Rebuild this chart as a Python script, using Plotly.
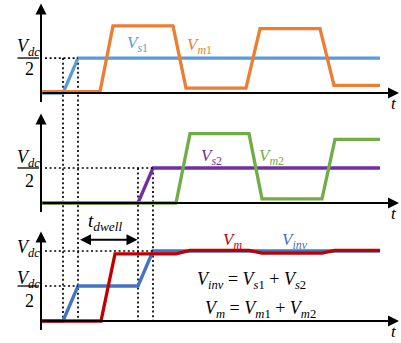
import plotly.graph_objects as go

# ---- waveform data (time in arbitrary units, voltage in units of Vdc) ----
# Upper cell: switching voltage Vs1 and modulated voltage Vm1
t_s1 = [0, 2.2, 3.7, 33.9]
v_s1 = [0, 0, 0.5, 0.5]
t_m1 = [0, 5.9, 7.2, 13.2, 14.5, 20.5, 21.9, 27.9, 29.3, 33.9]
v_m1 = [0.02, 0.02, 0.96, 0.96, 0.07, 0.07, 0.92, 0.92, 0.11, 0.11]

# Lower cell: Vs2 and Vm2
t_s2 = [0, 9.7, 11.2, 33.9]
v_s2 = [0, 0, 0.5, 0.5]
t_m2 = [0, 13.5, 14.9, 20.8, 22.1, 28.1, 29.4, 33.9]
v_m2 = [0, 0, 0.99, 0.99, 0.06, 0.06, 0.91, 0.91]

# Inverter output: Vinv = Vs1 + Vs2, Vm = Vm1 + Vm2
t_inv = [0, 2.2, 3.7, 9.7, 11.2, 33.9]
v_inv = [0, 0, 0.5, 0.5, 1, 1]
t_m = [0, 6.0, 7.4, 13.5, 14.9, 20.8, 22.1, 28.1, 29.4, 33.9]
v_m = [0, 0, 0.96, 0.96, 1.01, 1.01, 0.97, 0.97, 1.01, 1.01]

# Key instants marked with dotted guides
t_ramp1 = [2.2, 3.7]
t_ramp2 = [9.7, 11.2]

# Vertical offset of each stacked panel (shared y axis)
BASE = [0.0, -1.571, -3.257]

C_ORANGE = "#ED7D31"
C_BLUE = "#5B9BD5"
C_PURPLE = "#7030A0"
C_GREEN = "#70AD47"
C_RED = "#C00000"
C_BLUE2 = "#4472C4"
FONT = "Liberation Serif"
LW = 3.3


def shift(vals, panel):
    return [BASE[panel] + v for v in vals]


fig = go.Figure()


def wave(t, v, panel, color):
    fig.add_trace(go.Scatter(x=t, y=shift(v, panel), mode="lines",
                             line=dict(color=color, width=LW),
                             hoverinfo="skip"))


wave(t_s1, v_s1, 0, C_BLUE)
wave(t_m1, v_m1, 0, C_ORANGE)
wave(t_s2, v_s2, 1, C_PURPLE)
wave(t_m2, v_m2, 1, C_GREEN)
wave(t_inv, v_inv, 2, C_BLUE2)
wave(t_m, v_m, 2, C_RED)

shapes = []
annotations = []
DOT = dict(color="black", width=1.7, dash="2px,2.6px")

# dotted reference levels
shapes.append(dict(type="line", x0=0.4, x1=t_ramp1[1], y0=BASE[0] + 0.5, y1=BASE[0] + 0.5, line=DOT))
shapes.append(dict(type="line", x0=0.4, x1=t_ramp2[1], y0=BASE[1] + 0.5, y1=BASE[1] + 0.5, line=DOT))
shapes.append(dict(type="line", x0=0.4, x1=t_ramp1[1], y0=BASE[2] + 0.5, y1=BASE[2] + 0.5, line=DOT))
shapes.append(dict(type="line", x0=0.4, x1=t_ramp2[1], y0=BASE[2] + 1.0, y1=BASE[2] + 1.0, line=DOT))
# dotted vertical guides through the panels
for tt in t_ramp1:
    shapes.append(dict(type="line", x0=tt, x1=tt, y0=BASE[0] + 0.5, y1=BASE[2], line=DOT, layer="below"))
for tt in t_ramp2:
    shapes.append(dict(type="line", x0=tt, x1=tt, y0=BASE[1] + 0.5, y1=BASE[2], line=DOT, layer="below"))


def arrow(x, y, ax, ay, both=False):
    annotations.append(dict(x=x, y=y, ax=ax, ay=ay, xref="x", yref="y",
                            axref="x", ayref="y", text="", showarrow=True,
                            arrowhead=2, arrowsize=1.1, arrowwidth=2,
                            arrowcolor="black", standoff=0, startstandoff=0,
                            arrowside="end+start" if both else "end",
                            startarrowhead=2, startarrowsize=1.1))


def text(x, y, s, color="black", size=16):
    annotations.append(dict(x=x, y=y, xref="x", yref="y", text=s,
                            showarrow=False, xanchor="center", yanchor="middle",
                            font=dict(family=FONT, size=size, color=color)))


def sym(base, sub):
    return f"<i>{base}</i><sub>{sub}</sub>"


VDC = sym("V", "<i>dc</i>")
VS1 = sym("V", "<i>s</i>1")
VS2 = sym("V", "<i>s</i>2")
VM1 = sym("V", "<i>m</i>1")
VM2 = sym("V", "<i>m</i>2")
VM = sym("V", "<i>m</i>")
VINV = sym("V", "<i>inv</i>")

for p in range(3):
    b = BASE[p]
    # axes with arrowheads
    arrow(0, b + 1.28, 0, b - 0.15)
    arrow(35.8, b, 0, b)
    text(35.3, b - 0.15, "<i>t</i>", size=17)
    # Vdc/2 fraction bar
    shapes.append(dict(type="line", x0=-2.35, x1=-0.2, y0=b + 0.5, y1=b + 0.5,
                       line=dict(color="black", width=1.3)))

text(-1.25, BASE[0] + 0.65, VDC, size=18)
text(-1.2, BASE[0] + 0.34, "2", size=18)
text(-1.25, BASE[1] + 0.64, VDC, size=18)
text(-1.2, BASE[1] + 0.32, "2", size=18)
text(-1.25, BASE[2] + 0.60, VDC, size=18)
text(-1.2, BASE[2] + 0.29, "2", size=18)
text(-1.3, BASE[2] + 1.03, VDC, size=18)

# curve labels
text(9.6, BASE[0] + 0.70, VS1, C_BLUE, 17)
text(15.8, BASE[0] + 0.67, VM1, C_ORANGE, 17)
text(17.0, BASE[1] + 0.66, VS2, C_PURPLE, 17)
text(23.0, BASE[1] + 0.66, VM2, C_GREEN, 17)
text(19.1, BASE[2] + 1.14, VM, C_RED, 17)
text(25.4, BASE[2] + 1.14, VINV, C_BLUE2, 17)

# relations
text(21.0, BASE[2] + 0.58, f"{VINV} = {VS1} + {VS2}", size=18)
text(21.9, BASE[2] + 0.16, f"{VM} = {VM1} + {VM2}", size=18)

# dwell time marker
arrow(t_ramp2[0] - 0.05, BASE[2] + 1.16, t_ramp1[1] + 0.05, BASE[2] + 1.16, both=True)
text(6.4, BASE[2] + 1.41, sym("t", "<i>dwell</i>"), size=19)

fig.update_layout(
    width=401, height=343,
    margin=dict(l=0, r=0, t=0, b=0),
    paper_bgcolor="white", plot_bgcolor="white",
    showlegend=False,
    xaxis=dict(range=[-4.1, 36.0], visible=False, fixedrange=True),
    yaxis=dict(range=[-3.571, 1.329], visible=False, fixedrange=True),
    shapes=shapes, annotations=annotations,
)

fig.write_html("out.html")
